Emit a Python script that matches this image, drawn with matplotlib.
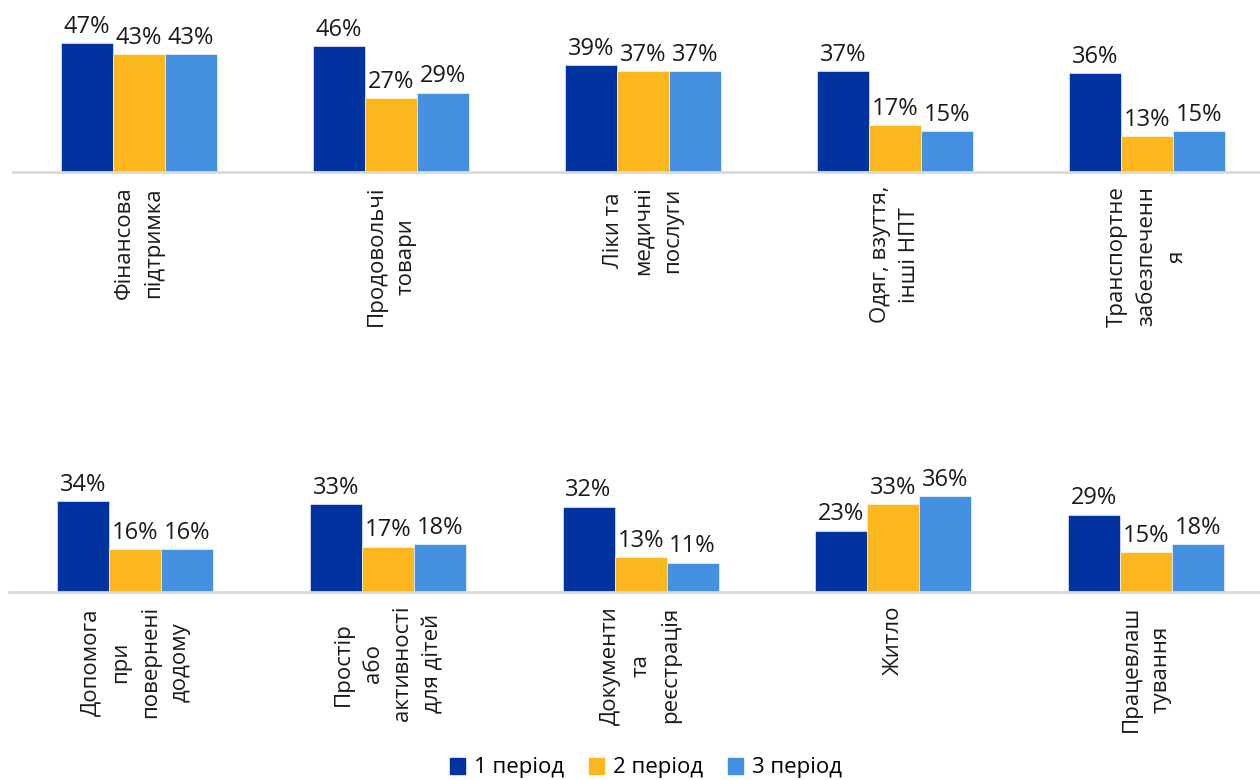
import matplotlib
matplotlib.use('Agg')
import matplotlib.pyplot as plt
import numpy as np
from matplotlib.patches import Patch

plt.rcParams['font.family'] = ['Open Sans', 'DejaVu Sans']

# верхній ряд
cats_top = ['Фінансова\nпідтримка', 'Продовольчі\nтовари', 'Ліки та\nмедичні\nпослуги',
            'Одяг, взуття,\nінші НПТ', 'Транспортне\nзабезпеченн\nя']
p1_top = [47, 46, 39, 37, 36]
p2_top = [43, 27, 37, 17, 13]
p3_top = [43, 29, 37, 15, 15]

# нижній ряд
cats_bot = ['Допомога\nпри\nповернені\nдодому', 'Простір\nабо\nактивності\nдля дітей',
            'Документи\nта\nреєстрація', 'Житло', 'Працевлаш\nтування']
p1_bot = [34, 33, 32, 23, 29]
p2_bot = [16, 17, 13, 33, 15]
p3_bot = [16, 18, 11, 36, 18]

series_names = ['1 період', '2 період', '3 період']
colors = ['#0033A0', '#FDB71E', '#4590E0']

fig = plt.figure(figsize=(12.6, 7.8), dpi=100)
ax_top = fig.add_axes([13 / 1260, 1 - 172 / 780, 1.0, 164 / 780])
ax_bot = fig.add_axes([9 / 1260, 1 - 592 / 780, 1.0025, 164 / 780])


def draw_row(ax, cats, series, ymax):
    x = np.arange(len(cats))
    w = 0.206
    for i, vals in enumerate(series):
        bars = ax.bar(x + (i - 1) * w, vals, w, color=colors[i],
                      edgecolor='white', linewidth=0.4)
        for b, v in zip(bars, vals):
            ax.annotate(f'{v}%', (b.get_x() + b.get_width() / 2, v),
                        xytext=(0, 3), textcoords='offset points',
                        ha='center', va='bottom', fontsize=17, color='#1a1a1a')
    ax.set_xlim(-0.5, len(cats) - 0.5)
    ax.set_ylim(0, ymax)
    ax.set_xticks(x)
    ax.set_xticklabels(cats, rotation=90, fontsize=16, ha='center', va='top',
                       multialignment='center', linespacing=1.55, color='#1a1a1a')
    ax.tick_params(axis='x', length=0, pad=10)
    ax.set_yticks([])
    for s in ['top', 'right', 'left']:
        ax.spines[s].set_visible(False)
    ax.spines['bottom'].set_color('#D9D9D9')
    ax.spines['bottom'].set_linewidth(2)
    ax.patch.set_alpha(0)


draw_row(ax_top, cats_top, [p1_top, p2_top, p3_top], 59.9)
draw_row(ax_bot, cats_bot, [p1_bot, p2_bot, p3_bot], 61.4)

handles = [Patch(color=c, label=n) for c, n in zip(colors, series_names)]
fig.legend(handles=handles, loc='center', bbox_to_anchor=(646 / 1260, 1 - 768 / 780),
           ncol=3, frameon=False, fontsize=16, handlelength=0.7, handleheight=0.7,
           handletextpad=0.4, columnspacing=1.1)

fig.savefig('out.png', dpi=100)
